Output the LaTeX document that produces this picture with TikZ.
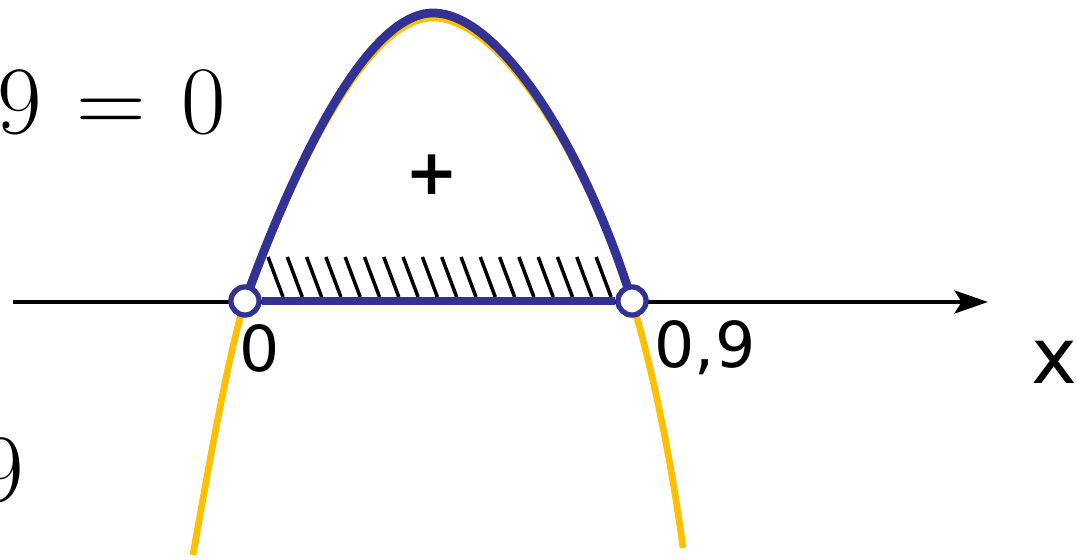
\documentclass[tikz,border=0pt]{standalone}
\usepackage{fontspec}
\newfontfamily\labelfont{DejaVu Sans}
\usetikzlibrary{arrows.meta}
\definecolor{rootblue}{RGB}{50,50,148}
\definecolor{curveyellow}{RGB}{255,192,0}
\tikzset{
  axis/.style={line width=2.6pt, -{Stealth[length=19pt,width=13pt,inset=4pt]}},
  parab/.style={draw=curveyellow, line width=3.8pt},
  topcurve/.style={draw=rootblue, line width=5pt},
  hatch/.style={line width=2pt},
  root/.style={
    circle,
    draw=rootblue,
    fill=white,
    line width=3pt,
    minimum size=16pt,
    inner sep=0pt
  },
  lbl/.style={font=\labelfont\fontsize{36}{40}\selectfont, inner sep=0pt},
  eqn/.style={font=\fontsize{55}{60}\selectfont, inner sep=0pt}
}
\begin{document}
\begin{tikzpicture}[x=0.02cm, y=-0.02cm]
    \useasboundingbox (0,0) rectangle (1076,560);

    \coordinate (p0) at (245,301);
    \coordinate (p9) at (632,301);
    \coordinate (axl) at (13,302);
    \coordinate (axr) at (988,302);

    % yellow parabola
    \draw[parab] (193,555) .. controls (215,430) and (230,350) .. (245,301)
      .. controls (300,154) and (370,18) .. (433,18)
      .. controls (500,18) and (585,154) .. (632,301)
      .. controls (650,360) and (670,450) .. (683,548);

    % hatching on the interval
    \foreach \i in {0,...,18}
      \draw[hatch] (268+19.3*\i,257) -- ++(15,40);

    \draw[axis] (axl) -- (axr);

    \draw[topcurve] (p0) .. controls (300,150) and (370,13) .. (433,13)
      .. controls (500,13) and (585,150) .. (p9);

    \node[root] (r0) at (p0) {};
    \node[root] (r9) at (p9) {};
    \draw[topcurve, line width=4.2pt] (r0) -- (r9);

    \node[lbl] (plus) at (432,175) {\bfseries +};
    \node[lbl] (zero) at (260,348) {0};
    \node[lbl] (nine) at (705,348) {0,9};
    \node[lbl, font=\labelfont\fontsize{44}{48}\selectfont] (xlbl) at (1054,362) {x};

    \node[eqn, anchor=base east] (eqtop) at (226,134) {9\hspace{0.36em}=\hspace{0.36em}0};
    \node[eqn, anchor=base east] (eqbot) at (24,502) {9};
  \end{tikzpicture}
\end{document}
